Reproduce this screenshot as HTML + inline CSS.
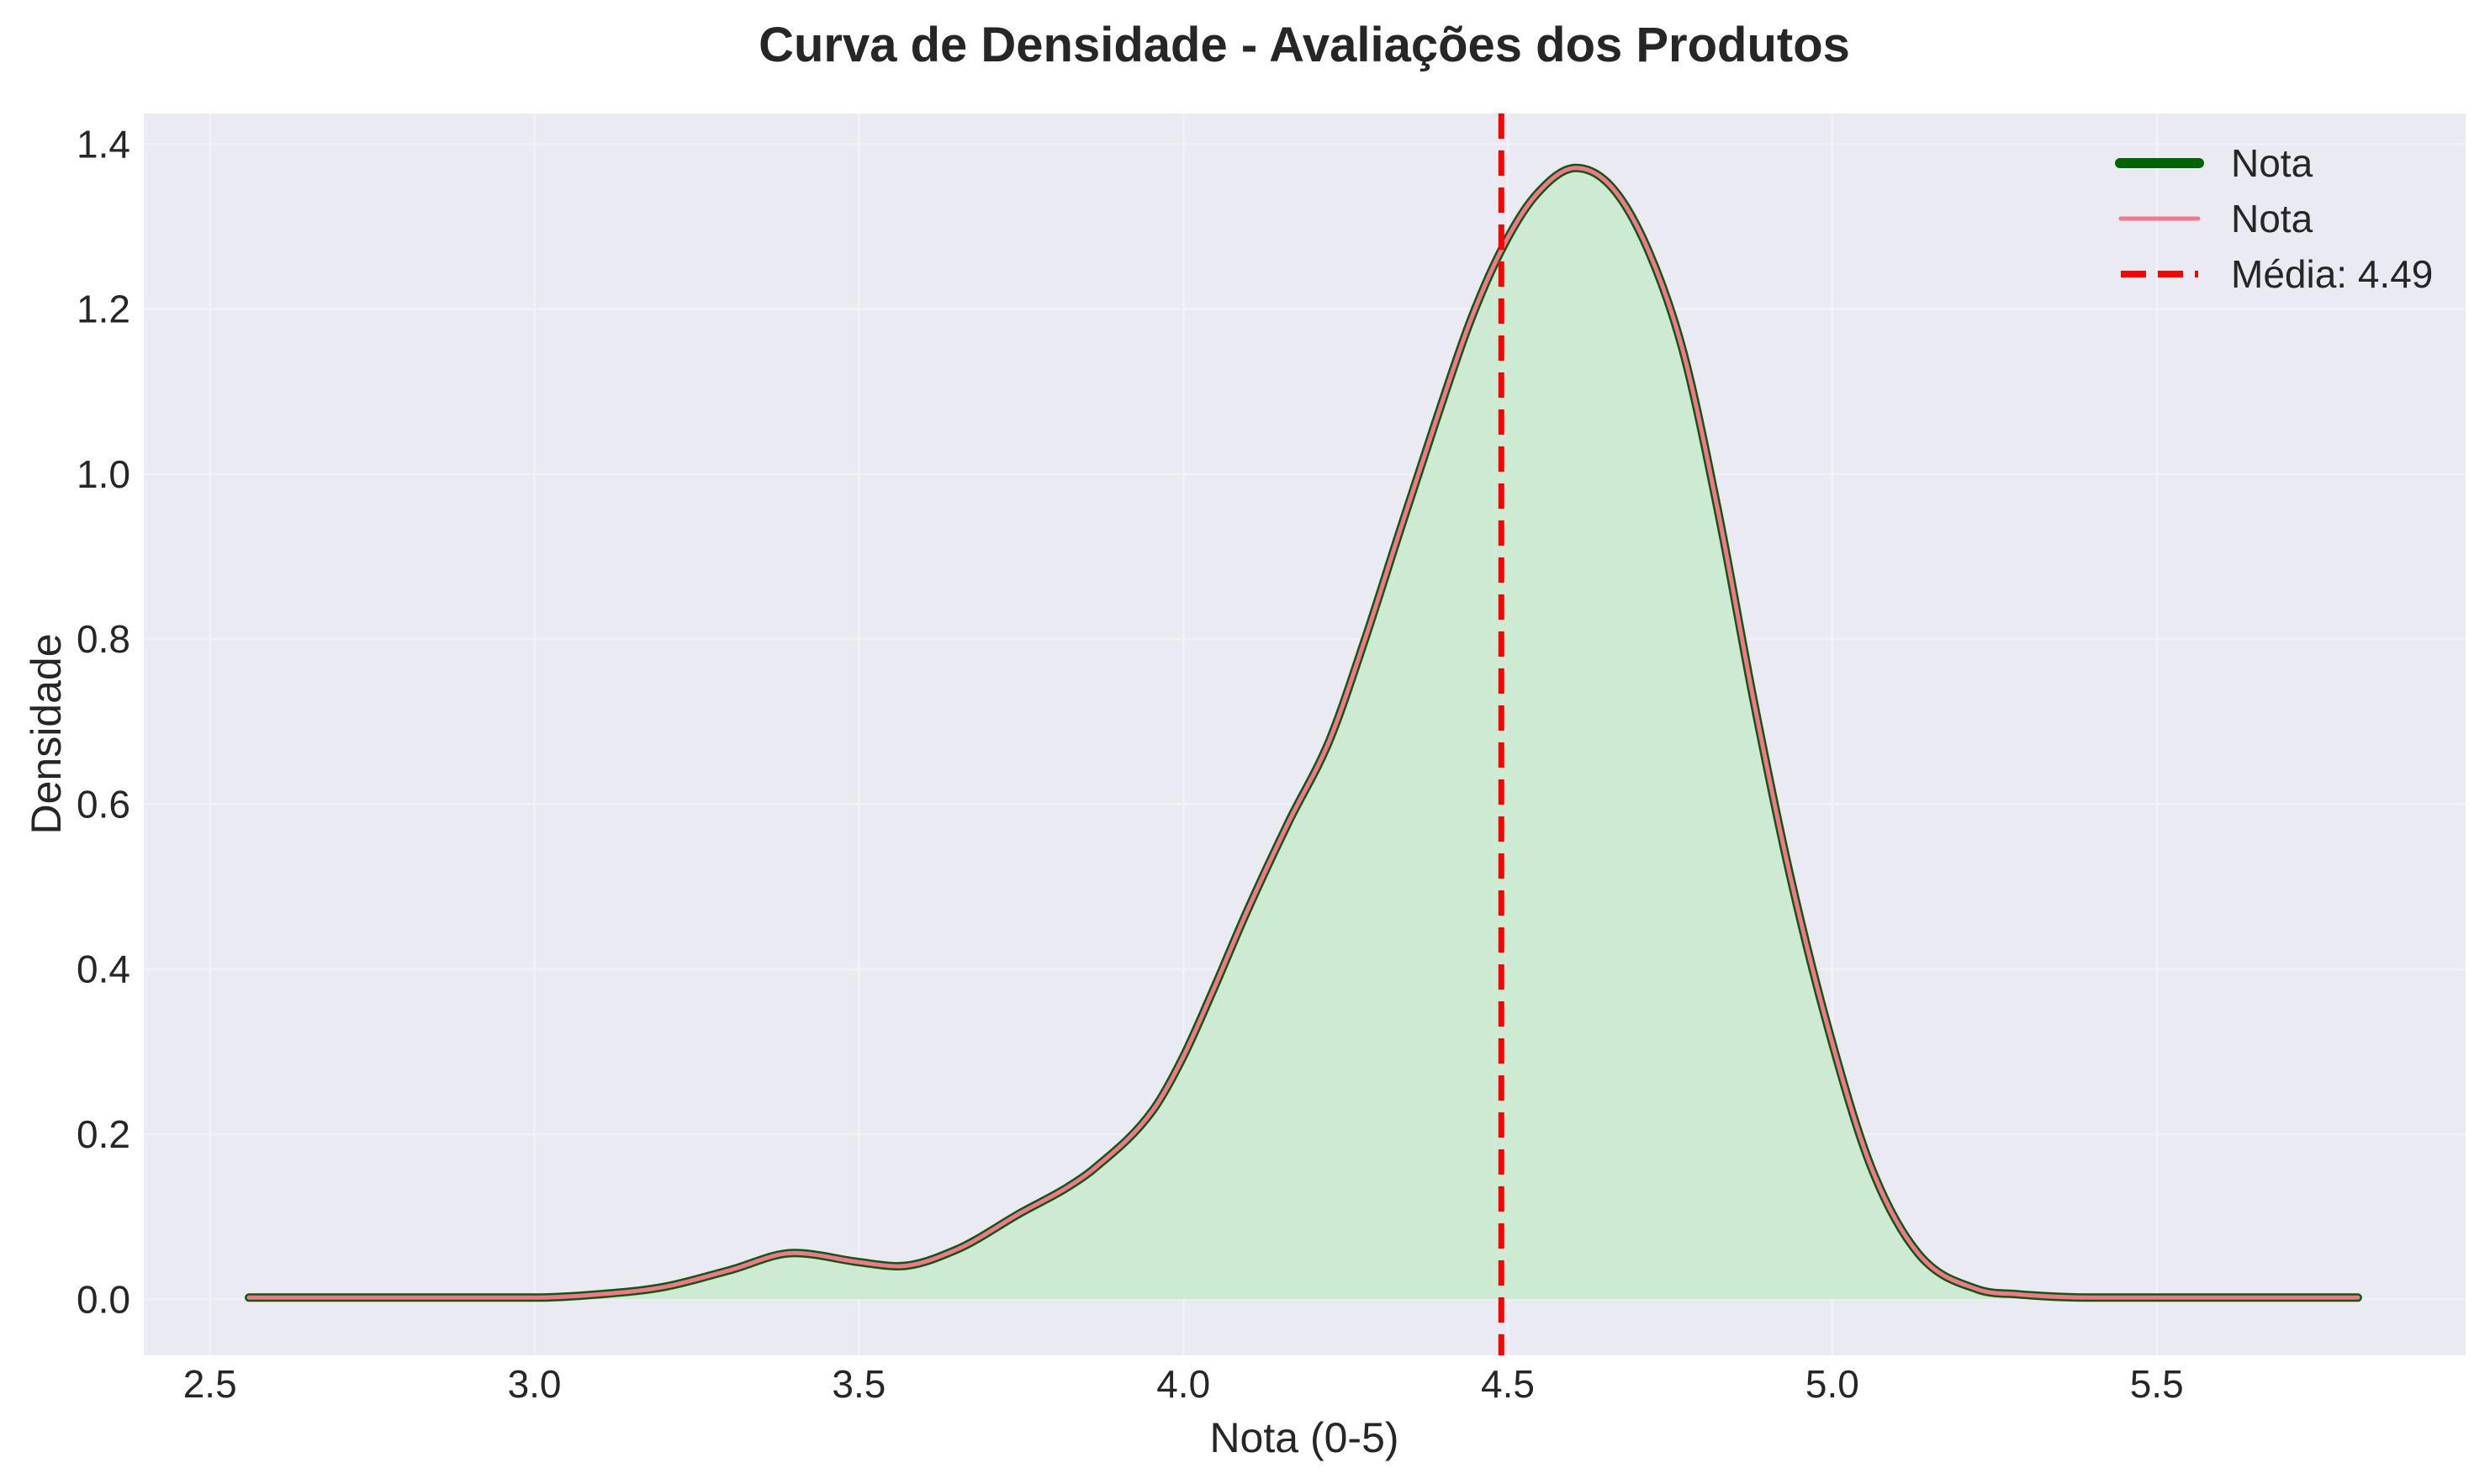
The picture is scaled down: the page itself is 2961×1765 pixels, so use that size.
<!DOCTYPE html>
<html><head><meta charset="utf-8"><style>
html,body{margin:0;padding:0;background:#fff}
svg{display:block;font-family:"Liberation Sans",sans-serif}
</style></head><body>
<svg id="chart" width="2961" height="1765" viewBox="0 0 2961 1765">
<rect x="171" y="135" width="2761" height="1477" fill="#eaeaf2"/>
<g id="grid"></g>
<g id="marks"></g>
<g id="ticks"></g>
<text x="1551" y="73" text-anchor="middle" font-size="58" font-weight="bold" fill="#262626">Curva de Densidade - Avaliações dos Produtos</text>
<text x="1551" y="1727" text-anchor="middle" font-size="50" fill="#262626">Nota (0-5)</text>
<text transform="translate(72,873) rotate(-90)" text-anchor="middle" font-size="50" fill="#262626">Densidade</text>
<g>
<line x1="2521" y1="194" x2="2615" y2="194" stroke="#006400" stroke-width="12" stroke-linecap="round"/>
<text x="2653" y="210" font-size="46" fill="#262626">Nota</text>
<line x1="2522" y1="260" x2="2614" y2="260" stroke="#f7758a" stroke-width="5" stroke-linecap="round"/>
<text x="2653" y="276" font-size="46" fill="#262626">Nota</text>
<line x1="2522" y1="326" x2="2614" y2="326" stroke="#ff0000" stroke-width="8" stroke-dasharray="30,14"/>
<text x="2653" y="342" font-size="46" fill="#262626">Média: 4.49</text>
</g>
</svg>
<script>
const xs = [2.56,3.0,3.1,3.2,3.3,3.4,3.5,3.56,3.65,3.75,3.82,3.862,3.953,3.998,4.044,4.098,4.162,4.225,4.28,4.334,4.389,4.443,4.493,4.543,4.605,4.661,4.716,4.77,4.825,4.879,4.934,4.997,5.061,5.133,5.224,5.286,5.4,5.81];
const ys = [0.002,0.002,0.006,0.015,0.035,0.056,0.045,0.04,0.06,0.105,0.135,0.158,0.229,0.291,0.371,0.47,0.578,0.677,0.8,0.932,1.064,1.187,1.276,1.338,1.371,1.347,1.272,1.149,0.951,0.725,0.517,0.319,0.158,0.055,0.012,0.006,0.002,0.002];
const meanValue = 4.49;
const xTicks = [2.5,3.0,3.5,4.0,4.5,5.0,5.5];
const yTicks = [0.0,0.2,0.4,0.6,0.8,1.0,1.2,1.4];

const L=171,R=2932,T=135,B=1612;
const x0=2.398,x1=5.976,y0=-0.068,y1=1.437;
const sx=v=>L+(v-x0)/(x1-x0)*(R-L);
const sy=v=>B-(v-y0)/(y1-y0)*(B-T);
const NS='http://www.w3.org/2000/svg';
function mk(tag,attrs,parent){const e=document.createElementNS(NS,tag);for(const k in attrs)e.setAttribute(k,attrs[k]);parent.appendChild(e);return e;}
const grid=document.getElementById('grid'),marks=document.getElementById('marks'),ticks=document.getElementById('ticks');
xTicks.forEach(t=>{
  const g=mk('line',{x1:sx(t),x2:sx(t),y1:T,y2:B,stroke:'#f2f2f6','stroke-width':2.5},grid);
  
  
  const tx=mk('text',{x:sx(t),y:1662,'text-anchor':'middle','font-size':46,fill:'#262626'},ticks);
  tx.textContent=t.toFixed(1);
  
  
});
yTicks.forEach(t=>{
  const g=mk('line',{x1:L,x2:R,y1:sy(t),y2:sy(t),stroke:'#f2f2f6','stroke-width':2.5},grid);
  
  
  const tx=mk('text',{x:155,y:sy(t)+16,'text-anchor':'end','font-size':46,fill:'#262626'},ticks);
  tx.textContent=t.toFixed(1);
  
  
});
function pathD(){
  const n=xs.length,px=xs.map(sx),py=ys.map(sy),m=[];
  const d=[];for(let i=0;i<n-1;i++)d.push((py[i+1]-py[i])/(px[i+1]-px[i]));
  m[0]=d[0];m[n-1]=d[n-2];
  for(let i=1;i<n-1;i++){m[i]=(d[i-1]*d[i]<=0)?0:(d[i-1]+d[i])/2;}
  let s=`M${px[0]},${py[0]}`;
  for(let i=0;i<n-1;i++){const h=px[i+1]-px[i];
    s+=` C${px[i]+h/3},${py[i]+m[i]*h/3} ${px[i+1]-h/3},${py[i+1]-m[i+1]*h/3} ${px[i+1]},${py[i+1]}`;}
  return s;
}
const d=pathD();
const fill=mk('path',{d:d+` L${sx(xs[xs.length-1])},${sy(0)} L${sx(xs[0])},${sy(0)} Z`,fill:'#cdebd3',stroke:'none'},marks);


const g1=mk('path',{d:d,fill:'none',stroke:'#0a5a14','stroke-width':10,'stroke-linecap':'round','stroke-linejoin':'round'},marks);


const p1=mk('path',{d:d,fill:'none',stroke:'#f7758a','stroke-width':5,'stroke-linecap':'round','stroke-linejoin':'round'},marks);


const ml=mk('line',{x1:sx(meanValue),x2:sx(meanValue),y1:T,y2:B,stroke:'#ff0000','stroke-width':7,'stroke-dasharray':'30,14'},marks);


</script>
</body></html>
